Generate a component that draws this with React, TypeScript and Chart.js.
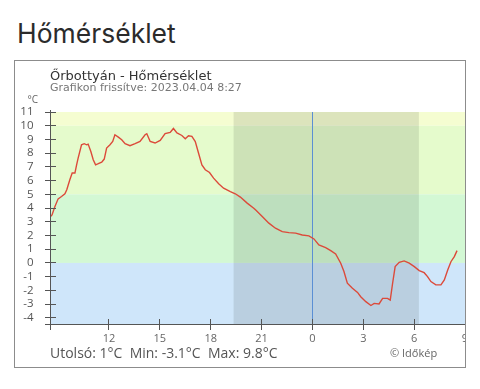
import React, { useEffect, useRef } from "react";
import { Chart, registerables } from "chart.js";

Chart.register(...registerables);

// Time axis in hours since midnight of the first day (24 = midnight, 33 = 9:00 next day)
const HOURS = [
  8.55, 8.64, 8.8, 9.0, 9.2, 9.4, 9.51, 9.69, 9.83, 9.99, 10.09, 10.18, 10.38, 10.54, 10.68, 10.77,
  10.93, 11.07, 11.21, 11.37, 11.57, 11.72, 11.86, 12.06, 12.22, 12.35, 12.55, 12.75, 12.95, 13.24,
  13.54, 13.83, 14.13, 14.23, 14.43, 14.72, 15.02, 15.31, 15.61, 15.8, 16.01, 16.3, 16.5, 16.69,
  16.89, 17.09, 17.28, 17.48, 17.68, 17.93, 18.17, 18.47, 18.76, 19.16, 19.45, 19.75, 20.15, 20.54,
  20.64, 21.04, 21.43, 21.82, 22.22, 22.61, 23.01, 23.4, 23.79, 24.09, 24.38, 24.78, 25.08, 25.37,
  25.67, 25.86, 26.06, 26.36, 26.66, 26.85, 27.15, 27.45, 27.64, 27.93, 28.14, 28.43, 28.59, 28.73,
  28.88, 29.12, 29.41, 29.71, 30.01, 30.3, 30.59, 30.79, 30.99, 31.28, 31.58, 31.78, 31.98, 32.17,
  32.37, 32.53,
];

const TEMPS = [
  3.38, 3.5, 4.07, 4.67, 4.84, 5.04, 5.33, 6.06, 6.55, 6.55, 7.15, 7.64, 8.61, 8.69, 8.61, 8.66,
  8.12, 7.52, 7.15, 7.23, 7.35, 7.57, 8.37, 8.61, 8.85, 9.34, 9.17, 8.98, 8.69, 8.54,
  8.69, 8.85, 9.34, 9.42, 8.85, 8.74, 8.93, 9.42, 9.51, 9.8, 9.47, 9.29, 9.05, 9.27,
  9.22, 8.85, 8.01, 7.15, 6.79, 6.59, 6.18, 5.77, 5.45, 5.2, 5.04, 4.8, 4.36, 3.99,
  3.87, 3.38, 2.9, 2.53, 2.28, 2.21, 2.17, 2.04, 1.97, 1.75, 1.31, 1.12, 0.9, 0.66,
  -0.02, -0.63, -1.48, -1.85, -2.15, -2.46, -2.82, -3.1, -2.95, -2.99, -2.58, -2.58, -2.7, -1.48,
  -0.27, 0.05, 0.15, -0.02, -0.27, -0.56, -0.71, -1.0, -1.36, -1.6, -1.6, -1.24, -0.51, 0.09,
  0.46, 0.9,
];

const X_TICKS = [12, 15, 18, 21, 24, 27, 30, 33];
const Y_TICKS = [-4, -3, -2, -1, 0, 1, 2, 3, 4, 5, 6, 7, 8, 9, 10, 11];
const X_MIN = 8.55;
const X_MAX = 33;
const Y_MIN = -4.45;
const Y_MAX = 11;

// temperature bands [from, to, colour]
const BAND_FROM = [10, 5, 0, -4.45];
const BAND_TO = [11, 10, 5, 0];
const BAND_COLORS = ["#f5fdd1", "#e5fbcc", "#d3f8d4", "#cfe6fa"];

const NIGHT = [19.35, 30.28];
const MIDNIGHT = 24;

const TITLE = "Hőmérséklet";
const SUBTITLE = "Őrbottyán - Hőmérséklet";
const UPDATED = "Grafikon frissítve: 2023.04.04 8:27";
const STATS = "Utolsó: 1°C\u00a0\u00a0Min: -3.1°C\u00a0\u00a0Max: 9.8°C";
const COPY = "© Időkép";
const UNIT = "°C";

const decorPlugin = {
  id: "decor",
  beforeDatasetsDraw(chart: any) {
    const { ctx, chartArea: a, scales } = chart;
    const x = scales.x;
    const y = scales.y;
    ctx.save();
    ctx.beginPath();
    ctx.rect(a.left, a.top, a.right - a.left, a.bottom - a.top);
    ctx.clip();
    for (let i = 0; i < BAND_COLORS.length; i++) {
      const y1 = y.getPixelForValue(BAND_TO[i]);
      const y2 = y.getPixelForValue(BAND_FROM[i]);
      ctx.fillStyle = BAND_COLORS[i];
      ctx.fillRect(a.left, y1, a.right - a.left, y2 - y1);
    }
    const n1 = x.getPixelForValue(NIGHT[0]);
    const n2 = x.getPixelForValue(NIGHT[1]);
    ctx.fillStyle = "rgba(20,30,20,0.11)";
    ctx.fillRect(n1, a.top, n2 - n1, a.bottom - a.top);
    const xm = Math.round(x.getPixelForValue(MIDNIGHT)) + 0.5;
    ctx.strokeStyle = "#5b8fd4";
    ctx.lineWidth = 1;
    ctx.beginPath();
    ctx.moveTo(xm, a.top);
    ctx.lineTo(xm, a.bottom);
    ctx.stroke();
    ctx.restore();
  },
  afterDatasetsDraw(chart: any) {
    const { ctx, chartArea: a, scales } = chart;
    const x = scales.x;
    const y = scales.y;
    const L = Math.floor(a.left) + 0.5;
    const B = Math.floor(a.bottom) + 0.5;
    ctx.save();
    ctx.strokeStyle = "#555";
    ctx.lineWidth = 1;
    ctx.beginPath();
    ctx.moveTo(L, a.top - 2);
    ctx.lineTo(L, B + 5.5);
    ctx.moveTo(L - 5.5, B);
    ctx.lineTo(a.right + 2, B);
    for (const t of Y_TICKS) {
      const py = Math.floor(y.getPixelForValue(t)) + 0.5;
      ctx.moveTo(L - 5.5, py);
      ctx.lineTo(L + 5.5, py);
    }
    for (const t of X_TICKS) {
      const px = Math.floor(x.getPixelForValue(t)) + 0.5;
      ctx.moveTo(px, B - 5.5);
      ctx.lineTo(px, B + 5.5);
    }
    ctx.stroke();
    ctx.restore();
  },
};

function TemperatureChart() {
  const ref = useRef<HTMLCanvasElement | null>(null);
  useEffect(() => {
    if (!ref.current) return;
    const data = HOURS.map((h, i) => ({ x: h, y: TEMPS[i] }));
    const chart = new Chart(ref.current, {
      type: "line",
      data: {
        datasets: [
          {
            data,
            borderColor: "#dc4a3a",
            borderWidth: 1.4,
            pointRadius: 0,
            tension: 0,
            fill: false,
          },
        ],
      },
      plugins: [decorPlugin],
      options: {
        animation: false,
        responsive: false,
        devicePixelRatio: 1,
        layout: { padding: { top: 51, right: 10, bottom: 0, left: 0 } },
        plugins: { legend: { display: false }, tooltip: { enabled: false } },
        scales: {
          x: {
            type: "linear",
            min: X_MIN,
            max: X_MAX,
            grid: { display: false, drawTicks: false },
            border: { display: false },
            afterBuildTicks: (s: any) => {
              s.ticks = X_TICKS.map((v) => ({ value: v }));
            },
            afterFit: (s: any) => {
              s.height = 42;
              s.paddingLeft = 0;
              s.paddingRight = 0;
            },
            ticks: {
              autoSkip: false,
              maxRotation: 0,
              padding: 8,
              color: "#666",
              font: { family: "'Open Sans'", size: 11 },
              callback: (v: any) => String(Number(v) % 24),
            },
          },
          y: {
            type: "linear",
            min: Y_MIN,
            max: Y_MAX,
            grid: { display: false, drawTicks: false },
            border: { display: false },
            afterBuildTicks: (s: any) => {
              s.ticks = Y_TICKS.map((v) => ({ value: v }));
            },
            afterFit: (s: any) => {
              s.width = 35.5;
              s.paddingTop = 0;
              s.paddingBottom = 0;
            },
            ticks: {
              autoSkip: false,
              padding: 17,
              color: "#555",
              font: { family: "'Open Sans'", size: 11.5 },
              callback: (v: any) => String(v),
            },
          },
        },
      },
    } as any);
    return () => chart.destroy();
  }, []);
  return (
    <canvas
      ref={ref}
      width={460}
      height={305}
      style={{ position: "absolute", left: 0, top: 0, width: 460, height: 305 }}
    />
  );
}

const textAt = (
  left: number,
  baseline: number,
  size: number,
  color: string,
  family: string,
  ratio = 0.88
): React.CSSProperties => ({
  position: "absolute",
  left,
  top: baseline - ratio * size,
  fontSize: size,
  lineHeight: `${size}px`,
  color,
  fontFamily: family,
  whiteSpace: "nowrap",
});

export default function App() {
  // container sits at page (8, 8)
  return (
    <div style={{ position: "relative", width: 464, height: 381 }}>
      <div style={textAt(9, 35.5, 26.5, "#2b2b2b", "Inter, 'Open Sans', sans-serif")}>{TITLE}</div>
      <div
        style={{
          position: "absolute",
          left: 6,
          top: 52,
          width: 452,
          height: 308,
          boxSizing: "border-box",
          border: "1px solid #8c8c8c",
          overflow: "hidden",
        }}
      >
        <TemperatureChart />
        <div style={textAt(35, 19.5, 13, "#333", "'DejaVu Sans', sans-serif", 0.86)}>{SUBTITLE}</div>
        <div style={textAt(35, 30.5, 11, "#777", "'DejaVu Sans', sans-serif", 0.86)}>{UPDATED}</div>
        <div style={textAt(12.5, 42, 10, "#666", "'Open Sans', sans-serif")}>{UNIT}</div>
        <div style={textAt(35, 297.5, 14, "#555", "'Open Sans', sans-serif")}>{STATS}</div>
        <div style={textAt(375, 295.5, 11, "#666", "'Open Sans', sans-serif")}>{COPY}</div>
      </div>
    </div>
  );
}
